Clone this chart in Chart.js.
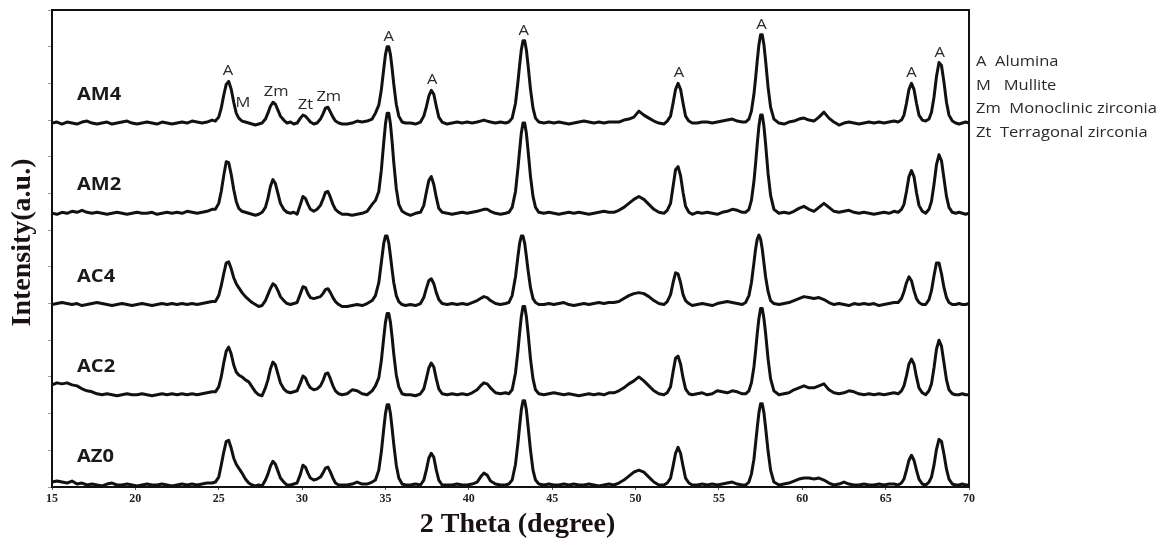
<!DOCTYPE html>
<html>
<head>
<meta charset="utf-8">
<title>XRD patterns</title>
<script src="https://cdn.jsdelivr.net/npm/chart.js@4.4.1/dist/chart.umd.min.js"></script>
<style>
  html, body { margin: 0; padding: 0; background: #fff; }
  canvas { display: block; }
</style>
</head>
<body>
<canvas id="xrdChart" width="1162" height="552"></canvas>
<script>
// 2 theta positions (degree), shared by all patterns
const twoTheta = [
  15.0,15.3,15.6,15.9,16.2,16.5,16.8,17.1,17.4,17.7,18.0,18.3,18.6,18.9,19.2,19.5,19.8,20.1,20.4,20.7,21.0,21.3,21.6,21.9,22.2,22.5,22.8,23.1,23.4,23.7,24.0,24.3,24.6,
  24.8,25.0,25.15,25.3,25.45,25.6,25.75,25.9,26.05,26.2,26.4,26.6,26.8,27.0,27.2,27.4,27.6,
  27.8,27.95,28.1,28.25,28.4,28.55,28.7,28.9,29.1,29.3,29.5,29.7,
  29.9,30.05,30.2,30.35,30.5,30.7,30.9,
  31.1,31.25,31.4,31.55,31.7,31.85,32.0,32.2,32.4,
  32.7,33.0,33.3,33.6,33.9,34.2,
  34.4,34.6,34.75,34.9,35.0,35.1,35.2,35.3,35.4,35.5,35.65,35.8,36.0,36.2,
  36.5,36.8,37.1,
  37.3,37.45,37.6,37.75,37.9,38.05,38.2,38.4,
  38.7,39.0,39.3,39.6,39.9,40.2,40.5,40.7,40.9,41.1,41.3,41.6,41.9,42.2,
  42.4,42.6,42.8,42.95,43.05,43.15,43.25,43.35,43.45,43.55,43.7,43.85,44.0,44.2,
  44.5,44.8,45.1,45.4,45.7,46.0,46.3,46.6,46.9,47.2,47.5,47.8,48.1,48.4,
  48.7,49.0,49.3,49.6,49.9,50.2,50.5,50.8,51.1,51.4,51.7,
  51.9,52.1,52.25,52.4,52.55,52.7,52.85,53.0,53.2,53.4,
  53.7,54.0,54.3,54.6,54.9,55.2,55.5,55.8,56.1,56.4,
  56.6,56.8,56.95,57.1,57.2,57.3,57.4,57.5,57.6,57.7,57.8,57.95,58.1,58.3,
  58.6,58.9,59.2,59.5,59.8,60.1,60.4,60.7,61.0,61.3,61.6,61.9,62.2,62.5,62.8,63.1,63.4,63.7,64.0,64.3,64.6,64.9,65.2,65.5,
  65.75,65.95,66.1,66.25,66.4,66.55,66.7,66.85,67.0,67.2,67.4,
  67.6,67.75,67.9,68.05,68.2,68.35,68.5,68.65,68.8,69.0,69.2,69.4,69.6,69.8,70.0
];

// intensity above each pattern's own baseline (a.u.)
const am4 = [
  0,1,-1,1,0,-1,1,2,0,-1,0,1,-1,0,1,2,0,-1,0,1,0,-1,1,0,-1,0,1,0,2,1,0,1,3,
  2,6,15,28,39,42,34,21,10,5,2,1,0,-1,-2,-1,0,
  4,10,17,21,19,13,7,3,0,1,-1,0,
  5,8,7,4,1,-1,0,
  4,9,15,16,11,6,2,0,-1,
  -1,0,2,1,2,4,
  10,18,33,55,69,77,77,69,55,39,19,7,1,0,
  0,-1,1,
  7,16,27,33,29,17,6,1,
  -1,0,1,0,1,0,1,2,3,2,1,0,1,0,
  1,5,20,42,59,74,83,83,74,59,34,15,5,1,
  0,1,0,1,0,-1,0,1,2,1,0,1,0,1,
  1,1,3,4,6,12,8,5,2,0,-1,
  2,7,20,34,40,34,20,7,2,0,
  0,1,1,0,1,2,3,4,2,1,
  1,4,12,29,45,63,79,89,89,79,63,36,16,4,
  0,-1,1,2,4,5,3,2,6,11,5,1,-2,0,1,0,-1,0,1,0,1,0,1,2,
  1,3,8,20,34,40,34,20,8,3,2,
  4,11,26,47,61,58,41,21,8,2,0,-1,0,1,0
];
const am2 = [
  0,-1,1,0,2,1,3,1,0,1,0,-1,0,1,0,-1,0,1,0,0,1,-1,0,1,0,1,0,2,1,0,1,2,4,
  4,10,22,38,52,51,39,24,12,5,2,1,0,-1,-2,-1,1,
  6,15,27,34,30,20,10,4,1,0,1,-1,
  9,17,15,9,4,2,4,
  8,14,21,22,16,9,4,1,-1,
  -1,-2,-1,0,2,9,
  13,22,43,72,90,101,101,90,72,51,25,9,2,0,
  -2,0,1,
  8,21,33,37,29,16,5,1,
  0,-1,0,1,0,1,2,3,4,4,2,0,-1,0,
  1,6,22,46,64,81,91,91,81,64,37,17,6,1,
  0,1,0,-1,0,1,0,1,0,-1,0,1,2,1,
  1,3,6,10,14,17,14,9,4,1,0,
  3,10,27,44,47,38,21,7,1,-1,
  1,0,1,0,-1,1,2,4,3,1,
  1,4,13,32,50,70,88,99,99,88,70,40,18,4,
  0,1,0,2,5,7,4,2,6,10,6,2,1,2,3,1,0,1,0,-1,0,1,0,2,
  1,4,9,22,37,43,37,21,8,2,0,
  4,12,29,49,59,53,35,17,6,1,0,1,0,-1,0
];
const ac4 = [
  0,1,2,1,0,1,-1,0,1,2,1,0,-1,0,1,0,-1,0,1,0,-1,0,1,0,1,0,1,0,1,0,1,2,3,
  3,9,19,31,42,43,36,27,21,17,12,8,5,2,0,-2,-1,
  4,10,16,21,19,14,8,4,1,0,1,2,
  11,18,17,11,7,6,7,
  8,11,15,16,12,7,3,0,-2,
  -2,-1,0,-1,1,4,
  9,22,42,62,69,69,62,49,35,22,9,3,0,-1,
  0,-1,1,
  7,16,24,26,21,12,5,1,
  0,1,0,1,0,2,4,6,8,7,4,1,0,1,
  2,9,28,49,62,69,69,62,49,35,17,6,2,0,
  0,1,0,1,2,0,-1,0,1,0,1,2,1,2,
  2,3,6,9,11,12,11,8,4,1,0,
  3,10,22,32,31,22,10,4,1,-1,
  0,1,0,-1,1,2,3,2,1,0,
  2,9,22,42,56,66,70,66,56,42,28,13,4,1,
  0,1,2,4,6,8,7,6,7,5,2,0,1,0,-1,1,0,1,0,1,-1,0,1,2,
  2,6,13,22,28,24,14,6,2,0,0,
  5,14,29,42,42,31,17,7,2,0,0,1,0,0,1
];
const ac2 = [
  10,12,11,12,10,9,6,4,3,1,0,1,0,-1,0,1,0,0,1,0,-1,0,1,0,1,0,1,0,1,0,1,2,3,
  3,8,18,32,44,48,41,30,23,20,18,15,13,8,3,0,-1,
  7,15,26,33,30,21,12,6,3,2,3,4,
  12,19,17,11,7,5,6,
  9,14,21,22,16,9,4,1,0,
  1,5,4,1,0,4,
  9,17,34,58,73,82,82,73,58,41,20,8,1,0,
  0,-1,1,
  6,16,27,32,28,16,6,1,
  0,1,0,1,0,2,5,9,12,11,7,2,1,2,
  1,5,22,45,63,79,89,89,79,63,36,16,5,1,
  0,1,2,1,0,1,0,-1,0,1,0,1,0,2,
  2,4,7,11,14,18,14,9,4,1,0,
  2,8,23,37,39,31,17,6,1,0,
  1,2,0,1,4,3,2,4,3,1,
  1,4,12,28,44,62,77,87,87,77,62,36,16,4,
  0,1,2,5,7,9,7,7,9,11,5,2,1,2,4,3,1,0,1,0,1,0,1,2,
  1,4,9,19,31,36,31,18,7,2,0,
  4,11,27,46,55,49,32,15,5,1,0,0,1,0,0
];
const az0 = [
  3,4,3,2,4,1,2,0,1,0,-1,1,2,0,0,1,0,-1,0,1,0,0,1,0,-1,0,1,0,1,0,1,2,2,
  3,8,20,33,44,45,37,27,21,17,12,6,2,0,-1,0,-1,
  5,11,19,24,21,14,7,3,0,0,1,2,
  11,20,18,12,7,5,6,
  8,12,17,18,13,7,2,0,0,
  0,1,3,1,1,3,
  5,15,33,57,72,81,81,72,57,41,20,7,1,0,
  0,1,0,
  5,15,27,32,28,15,5,0,
  0,0,1,0,0,1,3,8,12,10,4,1,0,0,
  1,5,21,43,60,76,85,85,76,60,35,15,5,1,
  0,1,0,0,1,0,1,0,0,1,0,-1,0,1,
  0,2,5,9,13,15,13,8,3,0,0,
  2,7,19,32,38,32,19,7,2,0,
  0,1,0,1,0,1,2,3,1,0,
  0,3,11,26,42,58,73,82,82,73,58,34,15,3,
  0,1,2,4,6,7,7,6,7,5,2,0,1,3,1,0,0,1,0,0,1,0,1,1,
  0,2,6,15,25,30,25,15,6,1,0,
  3,8,20,36,46,44,31,16,6,1,0,0,1,0,0
];

const sampleNames = ['AM4', 'AM2', 'AC4', 'AC2', 'AZ0'];
const sampleData = [am4, am2, ac4, ac2, az0];
const sampleOffsets = [367, 276, 184, 93, 2];   // vertical stacking of the patterns

// phase marks written over the AM4 pattern
const peakMarks = ['A', 'M', 'Zm', 'Zt', 'Zm', 'A', 'A', 'A', 'A', 'A', 'A', 'A'];
const peakAt = [25.55, 26.45, 28.45, 30.2, 31.6, 35.2, 37.8, 43.3, 52.6, 57.55, 66.55, 68.25];

const phaseKey = ['A  Alumina', 'M   Mullite', 'Zm  Monoclinic zirconia', 'Zt  Terragonal zirconia'];

sampleData.forEach((s, i) => {
  if (s.length !== twoTheta.length) throw new Error(sampleNames[i] + ' has ' + s.length + ' points, expected ' + twoTheta.length);
});

const SANS = '"Open Sans", "Noto Sans", sans-serif';
const SERIF = '"Liberation Serif", "Times New Roman", serif';

// draw text stretched horizontally
function wideText(ctx, text, px, py, sx) {
  ctx.save();
  ctx.translate(px, py);
  ctx.scale(sx, 1);
  ctx.fillText(text, 0, 0);
  ctx.restore();
}

const xrdText = {
  id: 'xrdText',
  afterDraw(chart) {
    const { ctx, chartArea: area, scales: { x, y } } = chart;
    ctx.save();

    // frame around the plot
    ctx.strokeStyle = '#111';
    ctx.lineWidth = 2;
    ctx.strokeRect(area.left, area.top, area.right - area.left, area.bottom - area.top);

    // sample names
    ctx.fillStyle = '#1a1a1a';
    ctx.font = 'bold 17px ' + SANS;
    ctx.textAlign = 'left';
    ctx.textBaseline = 'middle';
    sampleNames.forEach((name, i) => {
      wideText(ctx, name, x.getPixelForValue(16.5), y.getPixelForValue(sampleOffsets[i] + 28), 1.18);
    });

    // phase marks above the top pattern
    ctx.fillStyle = '#2a2a2a';
    ctx.font = '14px ' + SANS;
    ctx.textAlign = 'center';
    ctx.textBaseline = 'alphabetic';
    peakMarks.forEach((mark, k) => {
      let top = -Infinity;
      twoTheta.forEach((t, i) => {
        if (Math.abs(t - peakAt[k]) <= 0.55) top = Math.max(top, am4[i]);
      });
      const py = y.getPixelForValue(top + sampleOffsets[0]) - 6;
      wideText(ctx, mark, x.getPixelForValue(peakAt[k]), py, 1.18);
    });

    // phase key on the right
    ctx.textAlign = 'left';
    phaseKey.forEach((line, k) => {
      wideText(ctx, line, area.right + 7, 66 + k * 23.5, 1.18);
    });

    // axis titles
    ctx.fillStyle = '#1a1111';
    ctx.font = 'bold 28px ' + SERIF;
    ctx.textAlign = 'center';
    ctx.textBaseline = 'middle';
    ctx.fillText('2 Theta (degree)', (area.left + area.right) / 2 + 7, 525);
    ctx.save();
    ctx.translate(23, (area.top + area.bottom) / 2 - 6);
    ctx.rotate(-Math.PI / 2);
    ctx.fillText('Intensity(a.u.)', 0, 0);
    ctx.restore();

    ctx.restore();
  }
};

document.addEventListener('DOMContentLoaded', () => {
  const datasets = sampleData.map((vals, i) => ({
    label: sampleNames[i],
    data: twoTheta.map((t, j) => ({ x: t, y: vals[j] + sampleOffsets[i] })),
    borderColor: '#111',
    borderWidth: 3,
    borderJoinStyle: 'round',
    pointRadius: 0,
    tension: 0,
    fill: false
  }));

  new Chart(document.getElementById('xrdChart'), {
    type: 'line',
    data: { datasets: datasets },
    options: {
      responsive: false,
      animation: false,
      layout: { padding: { top: 10, right: 193, left: 0, bottom: 0 } },
      plugins: {
        legend: { display: false },
        tooltip: { enabled: false }
      },
      scales: {
        x: {
          type: 'linear',
          min: 15,
          max: 70,
          afterFit(scale) { scale.height = 65; },
          ticks: {
            stepSize: 5,
            maxRotation: 0,
            padding: 2,
            color: '#222',
            font: { family: SERIF, weight: 'bold', size: 12 }
          },
          grid: { display: true, drawOnChartArea: false, drawTicks: true, tickLength: 3, tickColor: '#555' },
          border: { display: true, color: '#111', width: 2 }
        },
        y: {
          min: 0,
          max: 481,
          afterFit(scale) { scale.width = 52; },
          ticks: { stepSize: 37, display: false },
          grid: { display: true, drawOnChartArea: false, drawTicks: true, tickLength: 4, tickColor: '#8a9bb3' },
          border: { display: true, color: '#111', width: 2 }
        }
      }
    },
    plugins: [xrdText]
  });
});
</script>
</body>
</html>
